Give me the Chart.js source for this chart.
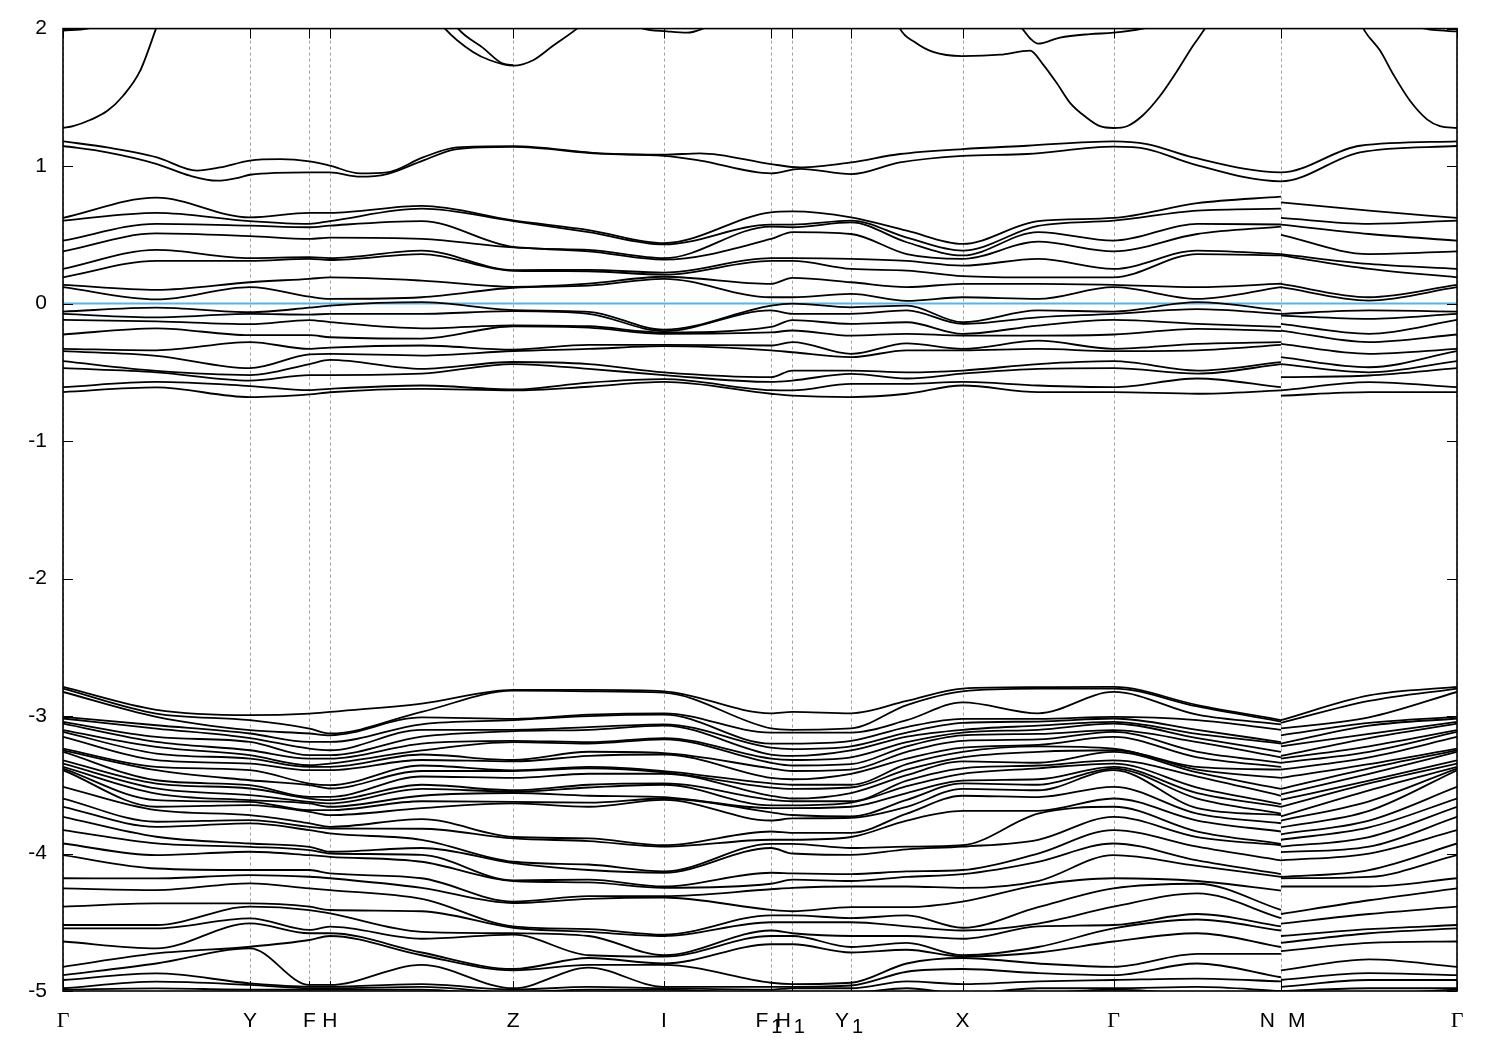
<!DOCTYPE html>
<html>
<head>
<meta charset="utf-8">
<title>Band structure</title>
<script src="https://cdn.jsdelivr.net/npm/chart.js@4/dist/chart.umd.min.js"></script>
<style>
  body { margin: 0; background: #fff; }
  canvas { display: block; }
</style>
</head>
<body>
<canvas id="bands" width="1500" height="1050"></canvas>
<script>
"use strict";

// k-path: high symmetry points (path length, normalised) and their labels
const symK = [0, 0.1341, 0.1768, 0.1915, 0.3230, 0.4311, 0.5079, 0.5232, 0.5653, 0.6453, 0.7536, 0.8737, 1.0];
const symLabels = ["Γ", "Y", "F", "H", "Z", "I", "F_1", "H_1", "Y_1", "X", "Γ", "N|M", "Γ"];

// k columns where energies were read (N and M share one k, line is broken there)
const kCols = [0, 0.0670, 0.1341, 0.1768, 0.1915, 0.2573, 0.3230, 0.3771, 0.4311, 0.5079, 0.5232,
               0.5653, 0.6053, 0.6453, 0.6995, 0.7536, 0.8137, 0.8737, 0.8737, 0.9369, 1.0];
const breakAt = 17;   // index of N, next column is M

const fermi = 0;
const yTicks = [-5, -4, -3, -2, -1, 0, 1, 2];

// the two bands near 1 eV, read with their own k samples
const pairK1 = [0, 0.0316, 0.0674, 0.0961, 0.1126, 0.1341, 0.1557, 0.1768, 0.1915, 0.2131, 0.2324, 0.2582, 0.2826, 0.3230, 0.3852,
                0.4311, 0.4570, 0.5079, 0.5287, 0.5653, 0.6004, 0.6453, 0.6915, 0.7536, 0.7776, 0.8106, 0.8737, 0.9304, 1.0];
const pairE1 = [1.18, 1.136, 1.063, 0.967, 0.99, 1.04, 1.05, 1.034, 1.003, 0.947, 0.954, 1.063, 1.136, 1.145, 1.093,
                1.083, 1.093, 1.015, 0.99, 1.027, 1.088, 1.124, 1.148, 1.18, 1.16, 1.063, 0.954, 1.148, 1.18];
const pairK2 = [0, 0.0316, 0.0674, 0.0911, 0.1105, 0.1270, 0.1341, 0.1768, 0.1915, 0.2131, 0.2324, 0.2582, 0.2826, 0.3230, 0.3852,
                0.4311, 0.4570, 0.5079, 0.5287, 0.5653, 0.6004, 0.6453, 0.6915, 0.7536, 0.7776, 0.8106, 0.8737, 0.9304, 1.0];
const pairE2 = [1.146, 1.1, 1.015, 0.93, 0.894, 0.918, 0.937, 0.954, 0.954, 0.923, 0.942, 1.04, 1.124, 1.14, 1.09,
                1.075, 1.04, 0.947, 0.98, 0.942, 1.027, 1.075, 1.088, 1.141, 1.124, 1.015, 0.889, 1.1, 1.146];

// bands around the Fermi level (eV), sorted, one row per k column
const valence = [
  [0.623, 0.603, 0.458, 0.38, 0.252, 0.191, 0.136, 0.119, -0.058, -0.075, -0.119, -0.225, -0.329, -0.346, -0.419, -0.47, -0.608, -0.644],
  [0.77, 0.66, 0.58, 0.51, 0.39, 0.31, 0.10, 0.03, -0.03, -0.10, -0.13, -0.18, -0.34, -0.38, -0.49, -0.50, -0.57, -0.61],
  [0.627, 0.60, 0.567, 0.49, 0.33, 0.31, 0.155, 0.12, -0.063, -0.075, -0.15, -0.23, -0.28, -0.47, -0.52, -0.56, -0.60, -0.68],
  [0.66, 0.58, 0.555, 0.47, 0.337, 0.325, 0.18, 0.05, -0.03, -0.08, -0.12, -0.23, -0.33, -0.37, -0.44, -0.52, -0.63, -0.66],
  [0.66, 0.60, 0.567, 0.48, 0.33, 0.317, 0.19, 0.034, -0.015, -0.075, -0.135, -0.245, -0.32, -0.366, -0.41, -0.52, -0.62, -0.645],
  [0.71, 0.69, 0.60, 0.47, 0.385, 0.36, 0.167, 0.046, 0.01, -0.075, -0.18, -0.255, -0.305, -0.378, -0.475, -0.51, -0.596, -0.62],
  [0.605, 0.60, 0.412, 0.408, 0.243, 0.238, 0.122, 0.115, -0.048, -0.055, -0.158, -0.165, -0.335, -0.345, -0.425, -0.44, -0.625, -0.632],
  [0.535, 0.52, 0.39, 0.38, 0.245, 0.235, 0.145, 0.13, -0.06, -0.075, -0.165, -0.175, -0.30, -0.33, -0.44, -0.475, -0.575, -0.605],
  [0.44, 0.43, 0.33, 0.32, 0.225, 0.21, 0.195, 0.18, -0.19, -0.20, -0.21, -0.22, -0.30, -0.31, -0.50, -0.52, -0.55, -0.57],
  [0.664, 0.574, 0.56, 0.47, 0.33, 0.31, 0.143, 0.046, -0.015, -0.05, -0.17, -0.21, -0.305, -0.34, -0.535, -0.57, -0.63, -0.656],
  [0.67, 0.574, 0.555, 0.52, 0.33, 0.31, 0.187, 0.046, 0.0, -0.075, -0.12, -0.196, -0.28, -0.354, -0.487, -0.56, -0.632, -0.67],
  [0.627, 0.603, 0.59, 0.506, 0.325, 0.252, 0.155, 0.07, -0.027, -0.075, -0.148, -0.233, -0.366, -0.39, -0.487, -0.511, -0.584, -0.68],
  [0.53, 0.48, 0.446, 0.36, 0.31, 0.24, 0.12, 0.02, -0.015, -0.05, -0.136, -0.22, -0.29, -0.34, -0.50, -0.545, -0.584, -0.656],
  [0.434, 0.385, 0.35, 0.325, 0.276, 0.20, 0.143, 0.046, -0.136, -0.148, -0.22, -0.233, -0.33, -0.34, -0.487, -0.51, -0.57, -0.596],
  [0.60, 0.565, 0.52, 0.45, 0.325, 0.19, 0.143, 0.034, -0.05, -0.10, -0.16, -0.233, -0.27, -0.33, -0.44, -0.475, -0.596, -0.644],
  [0.623, 0.603, 0.458, 0.38, 0.252, 0.191, 0.136, 0.119, -0.058, -0.075, -0.119, -0.225, -0.329, -0.346, -0.419, -0.47, -0.608, -0.644],
  [0.73, 0.676, 0.58, 0.506, 0.385, 0.36, 0.119, 0.034, 0.01, -0.04, -0.148, -0.184, -0.293, -0.34, -0.487, -0.51, -0.545, -0.656],
  [0.778, 0.69, 0.575, 0.56, 0.36, 0.35, 0.145, 0.12, -0.05, -0.075, -0.17, -0.20, -0.28, -0.30, -0.426, -0.44, -0.608, -0.632],
  [0.736, 0.623, 0.574, 0.50, 0.36, 0.35, 0.143, 0.119, -0.075, -0.087, -0.148, -0.196, -0.293, -0.39, -0.44, -0.535, -0.632, -0.67],
  [0.676, 0.58, 0.506, 0.36, 0.288, 0.252, 0.046, 0.022, -0.05, -0.111, -0.22, -0.28, -0.366, -0.463, -0.50, -0.523, -0.572, -0.644],
  [0.623, 0.603, 0.458, 0.38, 0.252, 0.191, 0.136, 0.119, -0.058, -0.075, -0.119, -0.225, -0.329, -0.346, -0.419, -0.47, -0.608, -0.644]
];

// lower group (-5 .. -2.8 eV), sorted, one row per k column
const lower = [
  [-2.788, -2.80, -2.825, -3.006, -3.018, -3.042, -3.055, -3.103, -3.115, -3.152, -3.237, -3.249, -3.261, -3.322, -3.346, -3.37, -3.382, -3.394, -3.515, -3.60, -3.66, -3.733, -3.83, -3.927, -4.012, -4.18, -4.254, -4.387, -4.52, -4.545, -4.64, -4.824, -4.885, -4.92, -4.98, -4.99],
  [-2.955, -2.982, -3.006, -3.067, -3.091, -3.152, -3.188, -3.224, -3.273, -3.321, -3.37, -3.394, -3.467, -3.491, -3.527, -3.564, -3.612, -3.66, -3.685, -3.769, -3.806, -3.878, -3.927, -4.012, -4.109, -4.181, -4.266, -4.363, -4.52, -4.545, -4.69, -4.727, -4.8, -4.872, -4.932, -4.981],
  [-2.994, -3.03, -3.103, -3.127, -3.16, -3.188, -3.249, -3.285, -3.31, -3.346, -3.394, -3.467, -3.503, -3.527, -3.576, -3.612, -3.624, -3.648, -3.721, -3.757, -3.781, -3.927, -3.951, -3.987, -4.12, -4.157, -4.217, -4.363, -4.387, -4.472, -4.508, -4.678, -4.69, -4.944, -4.956, -4.99],
  [-2.982, -3.091, -3.127, -3.188, -3.237, -3.285, -3.31, -3.358, -3.37, -3.394, -3.491, -3.503, -3.588, -3.6, -3.624, -3.636, -3.685, -3.697, -3.781, -3.806, -3.83, -3.951, -3.975, -4.012, -4.12, -4.169, -4.254, -4.387, -4.411, -4.556, -4.58, -4.629, -4.956, -4.968, -4.98, -4.99],
  [-2.97, -3.127, -3.14, -3.188, -3.249, -3.285, -3.31, -3.346, -3.37, -3.394, -3.503, -3.527, -3.588, -3.612, -3.636, -3.66, -3.685, -3.721, -3.806, -3.818, -3.854, -3.987, -4.0, -4.024, -4.145, -4.18, -4.266, -4.411, -4.436, -4.532, -4.58, -4.6, -4.956, -4.968, -4.98, -4.99],
  [-2.91, -2.97, -3.01, -3.06, -3.1, -3.15, -3.2, -3.25, -3.28, -3.32, -3.36, -3.4, -3.44, -3.5, -3.53, -3.58, -3.62, -3.67, -3.75, -3.82, -3.9, -3.96, -4.01, -4.06, -4.18, -4.25, -4.33, -4.42, -4.57, -4.62, -4.72, -4.74, -4.81, -4.95, -4.97, -4.99],
  [-2.81, -2.815, -3.02, -3.03, -3.1, -3.11, -3.18, -3.19, -3.32, -3.33, -3.395, -3.4, -3.45, -3.54, -3.55, -3.56, -3.625, -3.635, -3.88, -3.89, -4.06, -4.07, -4.195, -4.2, -4.35, -4.36, -4.53, -4.54, -4.58, -4.59, -4.84, -4.85, -4.98, -4.99, -5.01, -5.03],
  [-2.81, -2.82, -2.99, -3.0, -3.08, -3.1, -3.19, -3.2, -3.26, -3.29, -3.37, -3.38, -3.42, -3.5, -3.52, -3.58, -3.63, -3.66, -3.89, -3.91, -4.08, -4.12, -4.19, -4.21, -4.31, -4.33, -4.55, -4.57, -4.6, -4.74, -4.76, -4.81, -4.83, -4.97, -4.99, -5.02],
  [-2.82, -2.83, -2.98, -2.99, -3.06, -3.07, -3.16, -3.17, -3.27, -3.28, -3.4, -3.41, -3.42, -3.49, -3.5, -3.59, -3.6, -3.61, -3.94, -3.95, -4.13, -4.14, -4.24, -4.25, -4.31, -4.32, -4.59, -4.6, -4.74, -4.75, -4.8, -4.81, -4.97, -4.98, -4.99, -5.02],
  [-2.98, -3.09, -3.12, -3.2, -3.23, -3.28, -3.31, -3.34, -3.38, -3.45, -3.49, -3.52, -3.58, -3.61, -3.65, -3.67, -3.7, -3.76, -3.84, -3.9, -3.93, -3.96, -4.14, -4.22, -4.26, -4.41, -4.45, -4.5, -4.56, -4.6, -4.66, -4.94, -4.97, -4.99, -5.02, -5.04],
  [-2.97, -3.1, -3.12, -3.2, -3.24, -3.29, -3.32, -3.36, -3.4, -3.46, -3.5, -3.53, -3.6, -3.62, -3.65, -3.67, -3.72, -3.745, -3.85, -3.9, -3.93, -4.0, -4.145, -4.19, -4.25, -4.42, -4.45, -4.5, -4.58, -4.6, -4.66, -4.95, -4.97, -4.98, -5.01, -5.03],
  [-2.98, -3.09, -3.12, -3.18, -3.22, -3.25, -3.3, -3.35, -3.39, -3.42, -3.5, -3.52, -3.56, -3.62, -3.63, -3.66, -3.73, -3.74, -3.85, -3.88, -3.96, -4.01, -4.15, -4.2, -4.24, -4.39, -4.47, -4.5, -4.6, -4.68, -4.72, -4.94, -4.96, -4.98, -5.01, -5.04],
  [-2.89, -2.92, -3.03, -3.08, -3.12, -3.15, -3.19, -3.22, -3.26, -3.31, -3.35, -3.39, -3.43, -3.47, -3.51, -3.56, -3.61, -3.66, -3.71, -3.76, -3.95, -3.97, -4.13, -4.17, -4.24, -4.39, -4.45, -4.53, -4.6, -4.65, -4.7, -4.8, -4.86, -4.93, -4.98, -5.02],
  [-2.80, -2.82, -2.9, -3.02, -3.05, -3.1, -3.12, -3.14, -3.18, -3.23, -3.26, -3.3, -3.33, -3.38, -3.42, -3.47, -3.49, -3.53, -3.58, -3.69, -3.94, -3.95, -4.12, -4.15, -4.25, -4.35, -4.54, -4.56, -4.62, -4.74, -4.75, -4.76, -4.84, -4.95, -5.02, -5.06],
  [-2.79, -2.8, -2.98, -3.02, -3.04, -3.07, -3.1, -3.13, -3.17, -3.21, -3.22, -3.26, -3.34, -3.36, -3.38, -3.46, -3.5, -3.54, -3.59, -3.69, -3.71, -3.9, -4.0, -4.06, -4.2, -4.23, -4.39, -4.51, -4.53, -4.68, -4.72, -4.8, -4.87, -4.93, -4.98, -5.02],
  [-2.788, -2.80, -2.825, -3.006, -3.018, -3.042, -3.055, -3.103, -3.115, -3.152, -3.237, -3.249, -3.261, -3.322, -3.346, -3.37, -3.382, -3.394, -3.515, -3.60, -3.66, -3.733, -3.83, -3.927, -4.012, -4.18, -4.254, -4.387, -4.52, -4.545, -4.64, -4.824, -4.885, -4.92, -4.98, -4.99],
  [-2.92, -2.93, -2.99, -3.03, -3.1, -3.13, -3.16, -3.19, -3.26, -3.3, -3.37, -3.39, -3.41, -3.44, -3.52, -3.56, -3.6, -3.67, -3.71, -3.76, -3.84, -3.88, -3.95, -4.05, -4.09, -4.2, -4.22, -4.29, -4.44, -4.48, -4.58, -4.73, -4.8, -4.91, -4.97, -5.02],
  [-3.03, -3.04, -3.06, -3.1, -3.19, -3.2, -3.26, -3.3, -3.34, -3.37, -3.39, -3.45, -3.53, -3.58, -3.64, -3.66, -3.71, -3.72, -3.78, -3.84, -3.93, -3.94, -4.05, -4.15, -4.17, -4.27, -4.41, -4.47, -4.53, -4.56, -4.68, -4.73, -4.9, -4.93, -5.0, -5.03],
  [-3.03, -3.05, -3.09, -3.14, -3.2, -3.22, -3.29, -3.31, -3.34, -3.39, -3.45, -3.53, -3.57, -3.61, -3.66, -3.73, -3.76, -3.81, -3.86, -3.9, -3.95, -3.99, -4.05, -4.17, -4.18, -4.24, -4.44, -4.51, -4.6, -4.65, -4.71, -4.85, -4.92, -4.97, -5.0, -5.03],
  [-2.85, -2.89, -3.01, -3.05, -3.07, -3.13, -3.16, -3.22, -3.26, -3.3, -3.35, -3.38, -3.42, -3.47, -3.49, -3.54, -3.62, -3.69, -3.76, -3.81, -3.88, -3.95, -4.0, -4.12, -4.17, -4.24, -4.34, -4.44, -4.55, -4.58, -4.65, -4.77, -4.87, -4.92, -4.98, -5.02],
  [-2.788, -2.80, -2.825, -3.006, -3.018, -3.042, -3.055, -3.103, -3.115, -3.152, -3.237, -3.249, -3.261, -3.322, -3.346, -3.37, -3.382, -3.394, -3.515, -3.60, -3.66, -3.733, -3.83, -3.927, -4.012, -4.18, -4.254, -4.387, -4.52, -4.545, -4.64, -4.824, -4.885, -4.92, -4.98, -4.99]
];

// conduction band pieces that show below 2 eV (own k samples)
const topK = [
  [0, 0.0072, 0.0194, 0.0316, 0.0430, 0.0552, 0.0660, 0.0768],
  [0.9232, 0.9340, 0.9448, 0.9541, 0.9663, 0.9785, 0.9878, 1.0],
  [0.5933, 0.6004, 0.6112, 0.6241, 0.6449, 0.6722, 0.6937, 0.7030, 0.7131, 0.7224, 0.7346, 0.7439, 0.7536, 0.7633, 0.7747, 0.7869, 0.7991, 0.8106, 0.8192, 0.8264],
  [0.6758, 0.6880, 0.6937, 0.6995, 0.7152, 0.7367, 0.7536, 0.7747, 0.7905],
  [0.2633, 0.2740, 0.2941, 0.3063, 0.3230, 0.3372, 0.3515, 0.3687, 0.3795],
  [0.2740, 0.2834, 0.3013, 0.3156, 0.3230],
  [0.4067, 0.4161, 0.4333, 0.4476, 0.4591, 0.4684],
  [0, 0.0172, 0.0337],
  [0.9591, 0.9828, 1.0]
];
const topE = [
  [1.277, 1.29, 1.335, 1.40, 1.51, 1.69, 1.98, 2.3],
  [2.2, 1.98, 1.84, 1.67, 1.475, 1.34, 1.29, 1.277],
  [2.2, 2.0, 1.9, 1.83, 1.80, 1.81, 1.84, 1.74, 1.6, 1.46, 1.35, 1.29, 1.277, 1.29, 1.37, 1.51, 1.69, 1.875, 2.0, 2.12],
  [2.1, 2.0, 1.93, 1.89, 1.935, 1.96, 1.97, 2.0, 2.04],
  [2.15, 2.0, 1.83, 1.77, 1.73, 1.77, 1.875, 2.0, 2.1],
  [2.15, 2.0, 1.86, 1.745, 1.735],
  [2.05, 2.0, 1.98, 1.97, 2.0, 2.05],
  [1.985, 2.0, 2.05],
  [2.04, 1.99, 1.98]
];

const lineStyle = {
    borderColor: "#000000",
    borderWidth: 1.8,
    pointRadius: 0,
    fill: false,
    cubicInterpolationMode: "monotone"
};

// one dataset per band, taking the b-th energy of every column
function bandSets(cols) {
    let sets = [];
    let nb = cols[0].length;
    for (let b = 0; b < nb; b++) {
        let pts = [];
        for (let i = 0; i < cols.length; i++) {
            pts.push({ x: kCols[i], y: cols[i][b] });
            if (i === breakAt) {
                pts.push({ x: kCols[i], y: null });
            }
        }
        sets.push(Object.assign({ data: pts }, lineStyle));
    }
    return sets;
}

function curveSet(ks, es) {
    let pts = ks.map(function (k, i) { return { x: k, y: es[i] }; });
    return Object.assign({ data: pts }, lineStyle);
}

let datasets = [];
for (let c = 0; c < topK.length; c++) {
    datasets.push(curveSet(topK[c], topE[c]));
}
datasets.push(curveSet(pairK1, pairE1));
datasets.push(curveSet(pairK2, pairE2));
datasets = datasets.concat(bandSets(valence), bandSets(lower));
datasets.push({
    data: [{ x: 0, y: fermi }, { x: 1, y: fermi }],
    borderColor: "#56b4e9",
    borderWidth: 2,
    pointRadius: 0,
    fill: false
});

/* frame, inward ticks, dashed k-point lines and k labels */
const bandFrame = {
    id: "bandFrame",
    beforeDatasetsDraw(chart) {
        let ctx = chart.ctx;
        let a = chart.chartArea;
        let xs = chart.scales.x;
        ctx.save();
        ctx.strokeStyle = "#a0a0a0";
        ctx.lineWidth = 1;
        ctx.setLineDash([3, 3]);
        for (let k of symK) {
            let px = Math.round(xs.getPixelForValue(k)) + 0.5;
            ctx.beginPath();
            ctx.moveTo(px, a.top);
            ctx.lineTo(px, a.bottom);
            ctx.stroke();
        }
        ctx.restore();
    },
    afterDraw(chart) {
        let ctx = chart.ctx;
        let a = chart.chartArea;
        let xs = chart.scales.x;
        let ys = chart.scales.y;
        ctx.save();
        ctx.strokeStyle = "#000000";
        ctx.lineWidth = 1;
        ctx.beginPath();
        for (let v of yTicks) {
            let py = Math.round(ys.getPixelForValue(v)) + 0.5;
            ctx.moveTo(a.left, py); ctx.lineTo(a.left + 10, py);
            ctx.moveTo(a.right, py); ctx.lineTo(a.right - 10, py);
        }
        for (let k of symK) {
            let px = Math.round(xs.getPixelForValue(k)) + 0.5;
            ctx.moveTo(px, a.top); ctx.lineTo(px, a.top + 10);
            ctx.moveTo(px, a.bottom); ctx.lineTo(px, a.bottom - 10);
        }
        ctx.stroke();
        ctx.lineWidth = 1.6;
        ctx.strokeRect(a.left, a.top, a.right - a.left, a.bottom - a.top);

        // labels under the axis
        let base = a.bottom + 36;
        ctx.fillStyle = "#000000";
        ctx.textBaseline = "alphabetic";
        for (let i = 0; i < symK.length; i++) {
            let px = xs.getPixelForValue(symK[i]);
            let lab = symLabels[i];
            if (lab === "Γ") {
                ctx.font = "22px 'Liberation Serif'";
                ctx.textAlign = "center";
                ctx.fillText(lab, px, base);
            } else if (lab.indexOf("|") >= 0) {
                let parts = lab.split("|");
                ctx.font = "21px 'Liberation Sans'";
                ctx.textAlign = "right";
                ctx.fillText(parts[0], px - 6, base);
                ctx.textAlign = "left";
                ctx.fillText(parts[1], px + 7, base);
            } else if (lab.indexOf("_") >= 0) {
                let parts = lab.split("_");
                ctx.font = "21px 'Liberation Sans'";
                let w1 = ctx.measureText(parts[0]).width;
                ctx.font = "20px 'Liberation Sans'";
                let w2 = ctx.measureText(parts[1]).width;
                let x0 = px - (w1 + w2 + 3) / 2 - 2;
                ctx.textAlign = "left";
                ctx.font = "21px 'Liberation Sans'";
                ctx.fillText(parts[0], x0, base);
                ctx.font = "20px 'Liberation Sans'";
                ctx.fillText(parts[1], x0 + w1 + 3, base + 6);
            } else {
                ctx.font = "21px 'Liberation Sans'";
                ctx.textAlign = "center";
                ctx.fillText(lab, px, base);
            }
        }
        ctx.restore();
    }
};

let ctx0 = document.getElementById("bands");
let bandChart = new Chart(ctx0, {
    type: "line",
    data: { datasets: datasets },
    options: {
        responsive: false,
        animation: false,
        events: [],
        layout: { padding: { top: 28, right: 43, left: 0, bottom: 0 } },
        plugins: { legend: { display: false }, tooltip: { enabled: false } },
        scales: {
            x: {
                type: "linear",
                min: 0,
                max: 1,
                grid: { display: false },
                border: { display: false },
                ticks: { display: false },
                afterFit: function (s) { s.height = 59; }
            },
            y: {
                type: "linear",
                min: -5,
                max: 2,
                grid: { display: false, drawTicks: false },
                border: { display: false },
                ticks: {
                    stepSize: 1,
                    padding: 16,
                    color: "#000000",
                    font: { family: "'Liberation Sans'", size: 21 }
                },
                afterFit: function (s) { s.width = 63; }
            }
        }
    },
    plugins: [bandFrame]
});
</script>
</body>
</html>
